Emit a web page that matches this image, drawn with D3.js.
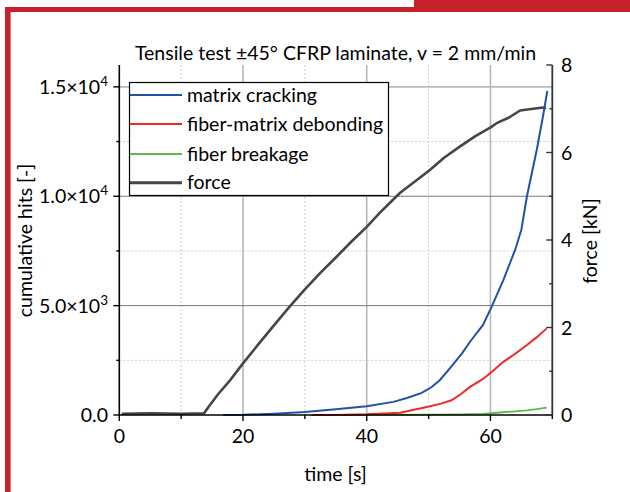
<!DOCTYPE html>
<html>
<head>
<meta charset="utf-8">
<script src="https://cdn.jsdelivr.net/npm/d3@7"></script>
<style>
  body { margin: 0; background: #fff; }
  svg { display: block; font-family: Lato, "Open Sans", sans-serif; }
</style>
</head>
<body>
<div id="chart"></div>
<script>
// force curve [kN]
var forceTime = [0.4, 5, 10, 13.7, 14.5, 16, 18, 20, 22.5, 25, 27.5, 30, 32.5, 35, 37.5, 40, 42.1, 45.4, 48, 50.2, 52.5, 55.1, 57.5, 60.1, 61, 63, 64.8, 66.9, 68.5, 69];
var forceKN = [0.03, 0.04, 0.03, 0.04, 0.2, 0.48, 0.81, 1.18, 1.62, 2.05, 2.47, 2.87, 3.25, 3.6, 3.96, 4.3, 4.62, 5.08, 5.36, 5.6, 5.88, 6.14, 6.37, 6.58, 6.67, 6.8, 6.96, 7.0, 7.03, 7.02];

// matrix cracking cumulative hits
var mcTime = [16.8, 20, 25, 30, 35, 40, 44.3, 46.5, 48.9, 50.5, 51.8, 53.5, 55.4, 56.7, 58.8, 60.2, 62.1, 64, 65, 65.9, 67.5, 68.5, 69.2];
var mcHits = [0, 10, 60, 140, 260, 400, 600, 780, 1010, 1280, 1590, 2150, 2815, 3350, 4115, 4955, 6180, 7555, 8470, 10000, 12140, 13670, 14815];

// fiber-matrix debonding
var fmTime = [31.1, 35, 40, 45.4, 49.7, 52, 53.7, 55.2, 56.7, 58.8, 59.9, 62.1, 64, 65.9, 67.5, 69.1];
var fmHits = [0, 5, 30, 100, 370, 520, 675, 950, 1285, 1650, 1900, 2430, 2800, 3200, 3560, 3960];

// fiber breakage
var fbTime = [31.1, 40, 50, 55, 58.8, 60, 62, 64, 65.9, 67.5, 69.1];
var fbHits = [0, 5, 15, 30, 55, 80, 125, 170, 215, 265, 340];

var xTicks = [0, 10, 20, 30, 40, 50, 60, 70];
var xLabels = [0, 20, 40, 60];
var yLeftTicks = [0, 2500, 5000, 7500, 10000, 12500, 15000];
var yLeftLabels = [{v: 0, m: "0.0", e: ""}, {v: 5000, m: "5.0×10", e: "3"}, {v: 10000, m: "1.0×10", e: "4"}, {v: 15000, m: "1.5×10", e: "4"}];
var yRightTicks = [0, 1, 2, 3, 4, 5, 6, 7, 8];
var yRightLabels = [0, 2, 4, 6, 8];

var seriesNames = ["matrix cracking", "fiber-matrix debonding", "fiber breakage", "force"];
var seriesColors = ["#2152a6", "#ec2a2a", "#5cba47", "#454545"];

var fs = 19.5;

var svg = d3.select("#chart").append("svg")
	.attr("width", 630)
	.attr("height", 492);

// red frame
svg.append("rect").attr("x", 414).attr("y", 0).attr("width", 216).attr("height", 12).attr("fill", "#c7212b");
svg.append("rect").attr("x", 5).attr("y", 7).attr("width", 625).attr("height", 5).attr("fill", "#c7212b");
svg.append("rect").attr("x", 5).attr("y", 7).attr("width", 6).attr("height", 485).attr("fill", "#c7212b");
svg.append("rect").attr("x", 10).attr("y", 12).attr("width", 1).attr("height", 480).attr("fill", "#e07a80");

var x = d3.scaleLinear().domain([0, 70]).range([119.3, 552.3]);
var yL = d3.scaleLinear().domain([0, 16000]).range([415, 65]);
var yR = d3.scaleLinear().domain([0, 8]).range([415, 65]);

// grid
var grid = svg.append("g");
xTicks.filter(function(d){ return d > 0 && d < 70; }).forEach(function(d){
	var major = d % 20 == 0;
	grid.append("line")
		.attr("x1", x(d)).attr("x2", x(d))
		.attr("y1", yL(0)).attr("y2", 65)
		.attr("stroke", major ? "#b8b8b8" : "#cccccc")
		.attr("stroke-width", major ? 1.6 : 1)
		.attr("stroke-dasharray", major ? null : "2,2");
});
yLeftTicks.filter(function(d){ return d > 0; }).forEach(function(d){
	var major = d % 5000 == 0;
	var col = d == 15000 ? "#b8b8b8" : (major ? "#7a7a7a" : "#cccccc");
	grid.append("line")
		.attr("x1", x(0)).attr("x2", x(70))
		.attr("y1", yL(d)).attr("y2", yL(d))
		.attr("stroke", col)
		.attr("stroke-width", d == 15000 ? 1.6 : 1)
		.attr("stroke-dasharray", major ? null : "2,2");
});

// curves
function toPts(t, v){ return t.map(function(d, i){ return [d, v[i]]; }); }
var lineL = d3.line().x(function(d){ return x(d[0]); }).y(function(d){ return yL(d[1]); });
var lineR = d3.line().x(function(d){ return x(d[0]); }).y(function(d){ return yR(d[1]); });

svg.append("path").attr("d", lineR(toPts(forceTime, forceKN)))
	.attr("fill", "none").attr("stroke", seriesColors[3]).attr("stroke-width", 2.6).attr("stroke-linejoin", "round");
svg.append("path").attr("d", lineL(toPts(fbTime, fbHits)))
	.attr("fill", "none").attr("stroke", seriesColors[2]).attr("stroke-width", 1.8);
svg.append("path").attr("d", lineL(toPts(fmTime, fmHits)))
	.attr("fill", "none").attr("stroke", seriesColors[1]).attr("stroke-width", 2);
svg.append("path").attr("d", lineL(toPts(mcTime, mcHits)))
	.attr("fill", "none").attr("stroke", seriesColors[0]).attr("stroke-width", 2);

// axes
var bottom = svg.append("g").attr("transform", "translate(0," + yL(0) + ")");
bottom.append("line").attr("x1", x(0)).attr("x2", x(70)).attr("stroke", "#000").attr("stroke-width", 1.6);
bottom.selectAll(".tk").data(xTicks).enter().append("line")
	.attr("x1", function(d){ return x(d); }).attr("x2", function(d){ return x(d); })
	.attr("y1", 0).attr("y2", function(d){ return d % 20 == 0 ? 6 : 4; })
	.attr("stroke", "#000").attr("stroke-width", 1.4);
bottom.selectAll(".lb").data(xLabels).enter().append("text")
	.attr("x", function(d){ return x(d); }).attr("y", 28)
	.attr("text-anchor", "middle").attr("font-size", fs)
	.text(function(d){ return d; });

var left = svg.append("g");
left.append("line").attr("x1", x(0)).attr("x2", x(0)).attr("y1", yL(0)).attr("y2", 65).attr("stroke", "#000").attr("stroke-width", 1.6);
left.selectAll(".tk").data(yLeftTicks).enter().append("line")
	.attr("x1", x(0)).attr("x2", function(d){ return x(0) - (d % 5000 == 0 ? 6 : 3); })
	.attr("y1", function(d){ return yL(d); }).attr("y2", function(d){ return yL(d); })
	.attr("stroke", "#000").attr("stroke-width", 1.4);
var lt = left.selectAll(".lb").data(yLeftLabels).enter().append("text")
	.attr("x", 108).attr("y", function(d){ return yL(d.v) + 7; })
	.attr("text-anchor", "end").attr("font-size", fs);
lt.append("tspan").text(function(d){ return d.m; });
lt.append("tspan").attr("dy", -8).attr("font-size", 13.5).text(function(d){ return d.e; });

var right = svg.append("g");
right.append("line").attr("x1", x(70)).attr("x2", x(70)).attr("y1", yR(0)).attr("y2", 65).attr("stroke", "#333").attr("stroke-width", 1.8);
right.selectAll(".tk").data(yRightTicks).enter().append("line")
	.attr("x1", x(70)).attr("x2", function(d){ return x(70) - (d % 2 == 0 ? 6 : 3); })
	.attr("y1", function(d){ return yR(d); }).attr("y2", function(d){ return yR(d); })
	.attr("stroke", "#333").attr("stroke-width", 1.4);
right.selectAll(".lb").data(yRightLabels).enter().append("text")
	.attr("x", 561).attr("y", function(d){ return yR(d) + 7; })
	.attr("font-size", fs)
	.text(function(d){ return d; });

// titles
svg.append("text").attr("x", 335.5).attr("y", 60).attr("text-anchor", "middle").attr("font-size", fs)
	.text("Tensile test ±45° CFRP laminate, v = 2 mm/min");
svg.append("text").attr("x", 335.5).attr("y", 481).attr("text-anchor", "middle").attr("font-size", fs)
	.text("time [s]");
svg.append("text").attr("transform", "translate(32,240.5) rotate(-90)").attr("text-anchor", "middle").attr("font-size", fs)
	.text("cumulative hits [-]");
svg.append("text").attr("transform", "translate(597,241) rotate(-90)").attr("text-anchor", "middle").attr("font-size", fs)
	.text("force [kN]");

// legend
var legend = svg.append("g");
legend.append("rect").attr("x", 129.5).attr("y", 82.5).attr("width", 259).attr("height", 113)
	.attr("fill", "#fff").attr("stroke", "#000").attr("stroke-width", 1.2);
var rowY = [95, 124, 154, 182.7];
seriesNames.forEach(function(name, i){
	legend.append("line").attr("x1", 130).attr("x2", 182).attr("y1", rowY[i]).attr("y2", rowY[i])
		.attr("stroke", seriesColors[i]).attr("stroke-width", i == 3 ? 3 : 2);
	legend.append("text").attr("x", 187).attr("y", rowY[i] + 6.5).attr("font-size", fs).text(name);
});
</script>
</body>
</html>
